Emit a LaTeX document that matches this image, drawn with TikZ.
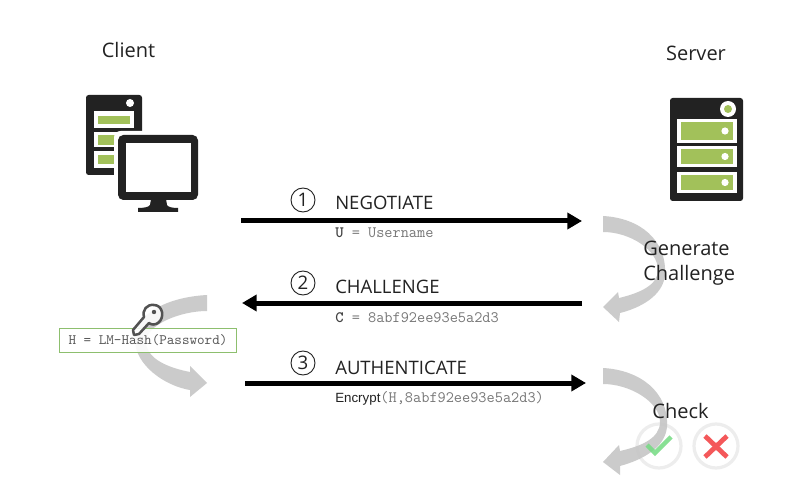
\documentclass[tikz,border=0pt]{standalone}
\usepackage{fontspec}
\setmainfont{Open Sans}
\newfontfamily\arialf{Liberation Sans}
\definecolor{ink}{HTML}{222222}
\definecolor{leaf}{HTML}{A2C15A}
\definecolor{band}{HTML}{C6C6C6}
\definecolor{mono}{HTML}{777777}
\definecolor{boxgreen}{HTML}{8DBF6E}
\definecolor{okgreen}{HTML}{74DB82}
\definecolor{nored}{HTML}{F4585A}
\tikzset{
 x=0.75pt,y=-0.75pt,
 title/.style={font=\fontsize{15}{18.75}\selectfont,text=ink,inner sep=0pt},
 msg/.style={font=\fontsize{13.9}{16}\selectfont,text=ink,inner sep=0pt,anchor=base west},
 sub/.style={font=\ttfamily\fontsize{11.9}{13}\selectfont,text=mono,inner sep=0pt,anchor=base west},
 num/.style={circle,draw=ink,line width=0.7pt,minimum size=18pt,inner sep=0pt,font=\fontsize{14}{15}\selectfont,text=ink},
 flow/.style={line width=3.75pt,draw=black,-{Triangle[length=11pt,width=12pt]},shorten >=0pt},
 bandfill/.style={fill=band,fill opacity=0.9,draw=none},
 badge/.style={circle,draw=black!7,line width=2.4pt,minimum size=33pt,inner sep=0pt},
}
\usetikzlibrary{arrows.meta}
\begin{document}
\begin{tikzpicture}
\useasboundingbox (0,0) rectangle (810,488);
\fill[white] (0,0) rectangle (810,488);
% badges
\node[badge] (ok) at (659,446) {};
\node[badge] (no) at (716,446) {};
\draw[line width=3.6pt,draw=nored] (705,436) -- (727,457) (727,436) -- (705,457);
% gray curved arrows
\path[bandfill] (603,216) .. controls (640,218) and (667,240) .. (665,275) .. controls (663,296) and (640,308) .. (620,313) -- (619,322) -- (603,307) -- (618,292) -- (619,298) .. controls (640,293) and (658,285) .. (658,270) .. controls (658,250) and (630,232) .. (603,232) -- cycle;
\path[bandfill] (603,368) .. controls (640,370) and (669,392) .. (667,427) .. controls (665,448) and (642,460) .. (620,466) -- (620,475) -- (603,462) -- (619,445) -- (620,451) .. controls (642,446) and (660,438) .. (660,422) .. controls (660,402) and (630,384) .. (603,384) -- cycle;
\path[bandfill] (207,295) .. controls (170,297) and (135,312) .. (135,340) .. controls (135,365) and (165,386) .. (190,390) -- (190,397) -- (207,383) -- (190,366) -- (190,372) .. controls (170,368) and (147,360) .. (146,342) .. controls (146,325) and (180,311) .. (207,311) -- cycle;
\draw[line width=3.2pt,draw=okgreen,draw opacity=0.85] (647,445) -- (655,453) -- (671,437);
% hash box
\node[draw=boxgreen,line width=0.8pt,fill=white,fill opacity=0.9,text opacity=1,minimum width=133pt,minimum height=18.5pt,inner sep=0pt,font=\ttfamily\fontsize{10.8}{12}\selectfont,text=black!65] (hash) at (148,340.5) {H = LM-Hash(Password)};
% key
\begin{scope}[line width=1.9pt,draw=black!68,fill=white,fill opacity=0.85,line join=round]
\path[draw,fill] (154,305) .. controls (163,305) and (165,318) .. (158,323) .. controls (155,325) and (151,325) .. (149,323) -- (139,334) -- (134,335) -- (133,330) -- (144,317) .. controls (142,310) and (147,304) .. (154,305) -- cycle;
\end{scope}
\fill[black!68] (154,312) circle (2.2);
% titles
\node[title] (client) at (128.5,50) {Client};
\node[title] (server) at (696,53) {Server};
% client icon
\path[fill=ink,rounded corners=2pt] (86,95) rectangle (142,175);
\fill[white] (130,103) circle (4);
\fill[white] (94,111) rectangle (134,128);
\fill[leaf] (98,116) rectangle (130,124);
\fill[white] (94,132) rectangle (134,147);
\fill[leaf] (98,135) rectangle (130,145);
\fill[white] (94,151) rectangle (134,168);
\fill[leaf] (98,155) rectangle (130,164);
\fill[white,rounded corners=5pt] (114,131) rectangle (202,204);
\fill[ink,rounded corners=4pt] (118,135) rectangle (198,200);
\fill[white] (126,143) rectangle (191,192);
\fill[ink] (151,199) -- (166,199) -- (167,205) .. controls (168,207) and (172,208) .. (178,208) -- (178,212) -- (138,212) -- (138,208) .. controls (144,208) and (149,207) .. (150,205) -- cycle;
% server icon
\path[fill=ink,rounded corners=2pt] (670,98) rectangle (743,201);
\fill[white] (728,109) circle (8);
\fill[leaf] (728,109) circle (4);
\foreach \ya/\yb in {119/143,146/167,172/193}{
 \fill[white] (677,\ya) rectangle (737,\yb);
 \fill[leaf] (681,\ya+3) rectangle (733,\yb-3);
 \fill[white] (725,{(\ya+\yb)/2}) circle (3.6);
}
% message arrows
\coordinate (a1) at (241,221); \coordinate (b1) at (582,221);
\coordinate (a2) at (582,303); \coordinate (b2) at (242,303);
\coordinate (a3) at (245,383); \coordinate (b3) at (586,383);
\draw[flow] (a1) -- (b1);
\draw[flow] (a2) -- (b2);
\draw[flow] (a3) -- (b3);
\node[num] (n1) at (303,200) {1};
\node[num] (n2) at (303,283) {2};
\node[num] (n3) at (303,363) {3};
\node[msg] (neg) at (335,210) {NEGOTIATE};
\node[msg] (cha) at (335,293) {CHALLENGE};
\node[msg] (aut) at (335,374) {AUTHENTICATE};
\node[sub] (s1) at (335,238) {{\color{ink!85}\textbf{U}} = Username};
\node[sub] (s2) at (335,322) {{\color{ink!85}\textbf{C}} = 8abf92ee93e5a2d3};
\node[sub] (s3) at (335,402) {{\arialf\fontsize{10}{12}\selectfont\color{ink}Encrypt}(H,8abf92ee93e5a2d3)};
% right labels
\node[title,align=left,anchor=west] (gen) at (643,263) {Generate\\Challenge};
\node[title] (chk) at (680.5,411) {Check};
\end{tikzpicture}
\end{document}
